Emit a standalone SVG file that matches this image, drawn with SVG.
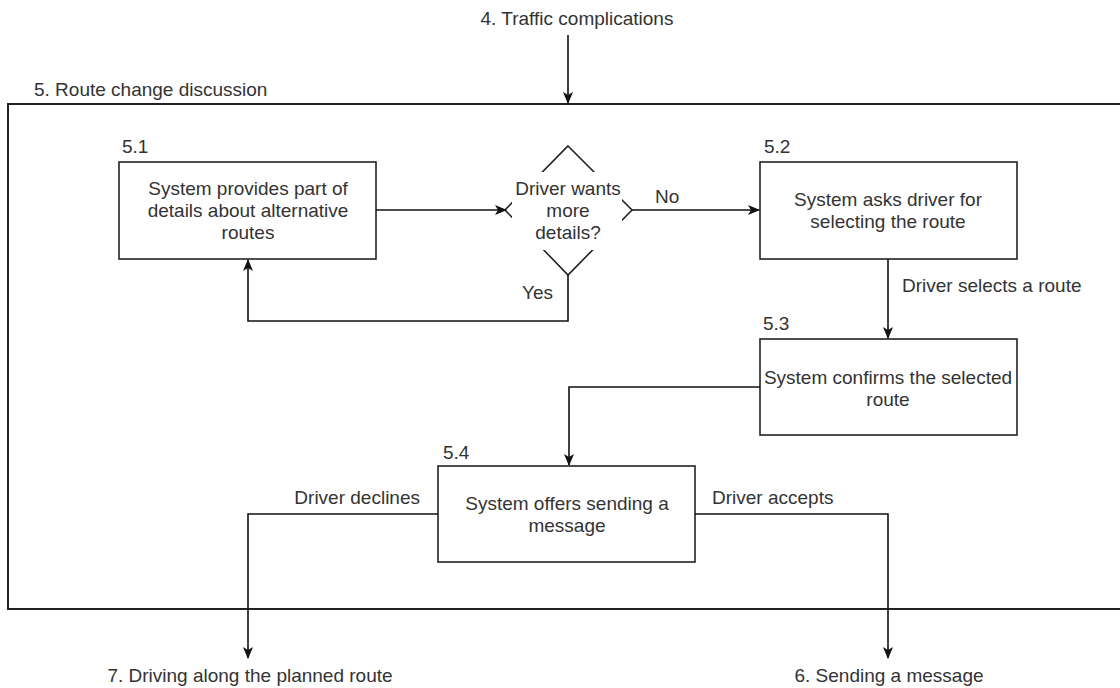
<svg xmlns="http://www.w3.org/2000/svg" width="1120" height="688" viewBox="0 0 1120 688">
<style>
text{font-family:"Liberation Sans",Arial,sans-serif;font-size:19px;fill:#333;}
.c{text-anchor:middle;}
.box{fill:#fff;stroke:#222;stroke-width:1.6;}
.ln{fill:none;stroke:#111;stroke-width:1.6;}
</style>
<defs>
<marker id="ar" markerWidth="12" markerHeight="12" refX="11" refY="6" orient="auto" markerUnits="userSpaceOnUse">
<path d="M0,1 L12,6 L0,11 L3,6 z" fill="#111"/>
</marker>
</defs>
<rect width="1120" height="688" fill="#fff"/>
<g id="container">
<rect x="8" y="104" width="1130" height="505" fill="#fff" stroke="#222" stroke-width="2"/>
<text x="34" y="96">5. Route change discussion</text>
</g>
<g id="top-label"><text class="c" x="577" y="25">4. Traffic complications</text></g>
<g id="node-5-1">
<text x="122" y="153">5.1</text>
<rect class="box" x="119" y="162" width="257" height="97"/>
<text class="c" x="248" y="195">System provides part of</text>
<text class="c" x="248" y="217">details about alternative</text>
<text class="c" x="248" y="239">routes</text>
</g>
<g id="node-decision">
<polygon points="568,146 632,210 568,275 505,210" fill="#fff" stroke="#222" stroke-width="1.6"/>
<rect x="512" y="172" width="110" height="78" fill="#fff"/>
<text class="c" x="568" y="195">Driver wants</text>
<text class="c" x="568" y="217">more</text>
<text class="c" x="568" y="239">details?</text>
</g>
<g id="node-5-2">
<text x="764" y="153">5.2</text>
<rect class="box" x="760" y="162" width="257" height="97"/>
<text class="c" x="888" y="206">System asks driver for</text>
<text class="c" x="888" y="228">selecting the route</text>
</g>
<g id="node-5-3">
<text x="763" y="330">5.3</text>
<rect class="box" x="760" y="339" width="257" height="96"/>
<text class="c" x="888" y="384">System confirms the selected</text>
<text class="c" x="888" y="406">route</text>
</g>
<g id="node-5-4">
<text x="443" y="459">5.4</text>
<rect class="box" x="438" y="466" width="257" height="96"/>
<text class="c" x="567" y="510">System offers sending a</text>
<text class="c" x="567" y="532">message</text>
</g>
<g id="bottom-labels">
<text class="c" x="250" y="682">7. Driving along the planned route</text>
<text class="c" x="889" y="682">6. Sending a message</text>
</g>
<g id="connectors">
<line class="ln" x1="568" y1="35" x2="568" y2="103" marker-end="url(#ar)"/>
<line class="ln" x1="376" y1="210" x2="506" y2="210" marker-end="url(#ar)"/>
<line class="ln" x1="632" y1="210" x2="759" y2="210" marker-end="url(#ar)"/>
<text x="655" y="203">No</text>
<polyline class="ln" points="568,275 568,321 248,321 248,260" marker-end="url(#ar)"/>
<text x="522" y="299">Yes</text>
<line class="ln" x1="888" y1="259" x2="888" y2="338" marker-end="url(#ar)"/>
<text x="902" y="292">Driver selects a route</text>
<polyline class="ln" points="760,387 569,387 569,465" marker-end="url(#ar)"/>
<polyline class="ln" points="438,514 248,514 248,658" marker-end="url(#ar)"/>
<text x="420" y="504" text-anchor="end">Driver declines</text>
<polyline class="ln" points="695,514 888,514 888,658" marker-end="url(#ar)"/>
<text x="712" y="504">Driver accepts</text>
</g>
</svg>
